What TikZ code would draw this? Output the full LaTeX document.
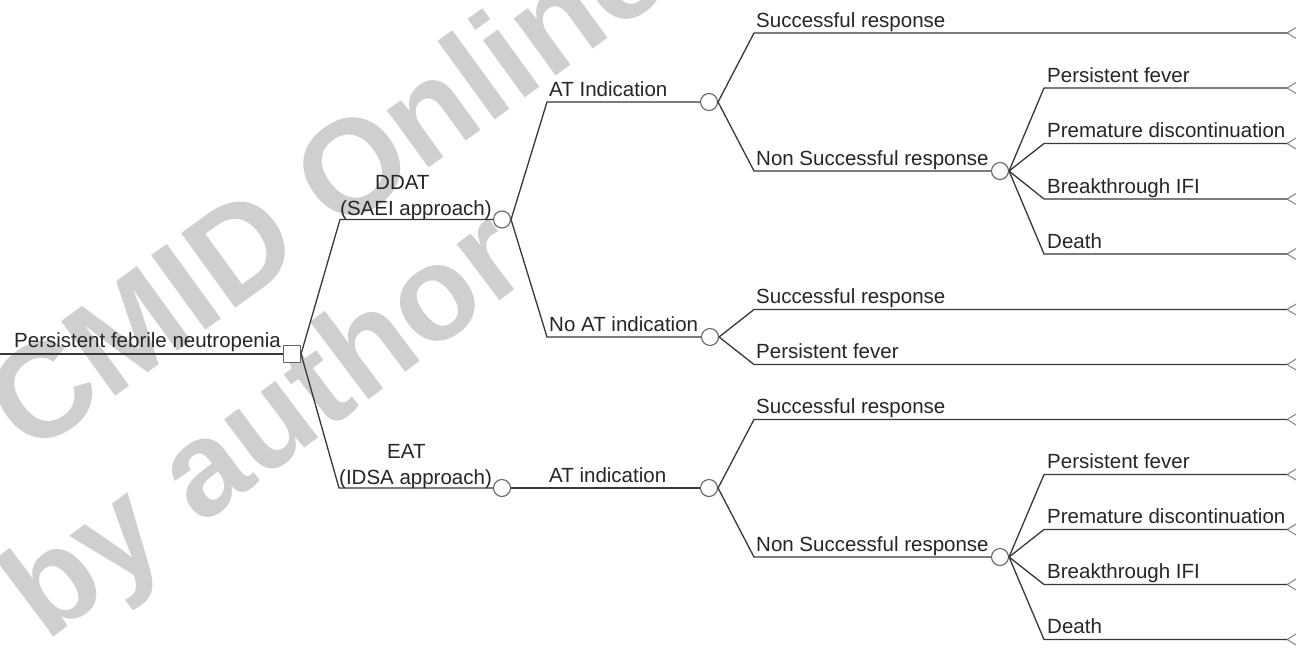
\documentclass[tikz,border=0pt]{standalone}
\usepackage{fontspec}
\newfontfamily\labfont{Liberation Sans}
\newfontfamily\wmfont{Liberation Sans Bold}
\begin{document}
\begin{tikzpicture}[x=1pt,y=-1pt,
  lab/.style={font=\labfont\fontsize{20.5}{26}\selectfont, inner sep=0pt, anchor=base west, text=black!85},
  wm/.style={font=\wmfont\fontsize{134}{134}\selectfont, text=black!19, inner sep=0pt, anchor=base west},
  branch/.style={draw=black!78, line width=1.3pt},
  chance/.style={circle, draw=black!60, fill=white, line width=1.1pt, minimum size=17pt, inner sep=0pt},
  decision/.style={rectangle, draw=black!60, fill=white, line width=1.1pt, minimum size=17pt, inner sep=0pt},
  term/.style={draw=black!45, line width=1.1pt}
]
\useasboundingbox (0,0) rectangle (1296,649);
\clip (0,0) rectangle (1296,649);
\fill[white] (0,0) rectangle (1296,649);
% watermark
\node[wm, rotate=36] (wm1) at (30,458) {CMID Online};
\node[wm, rotate=37] (wm2) at (46,643) {by author};

% terminal y values
\def\ta{33}\def\tb{88}\def\tc{143.5}\def\td{199}\def\te{254}\def\tf{309.5}
\def\tg{364.5}\def\th{419.5}\def\ti{474.5}\def\tj{529.5}\def\tk{584.5}\def\tl{639.5}

% nodes
\coordinate (r0) at (0,354);
\node[decision] (dec) at (292,354) {};
\node[chance] (c1) at (502,219.5) {};
\node[chance] (c2) at (502,488) {};
\node[chance] (c3) at (709,102) {};
\node[chance] (c4) at (710,337) {};
\node[chance] (c5) at (709,488) {};
\node[chance] (c6) at (1000,171) {};
\node[chance] (c7) at (1000,557) {};

% corners
\coordinate (k1) at (340,219.5);
\coordinate (k2) at (339,488);
\coordinate (k3) at (547,102);
\coordinate (k4) at (547,337);
\coordinate (k5) at (547,488);
\coordinate (k6) at (754,\ta);
\coordinate (k7) at (754,171);
\coordinate (k8) at (754,\tf);
\coordinate (k9) at (754,\tg);
\coordinate (k10) at (754,\th);
\coordinate (k11) at (754,557);
\coordinate (q1) at (1044,\tb);
\coordinate (q2) at (1044,\tc);
\coordinate (q3) at (1044,\td);
\coordinate (q4) at (1044,\te);
\coordinate (q5) at (1044,\ti);
\coordinate (q6) at (1044,\tj);
\coordinate (q7) at (1044,\tk);
\coordinate (q8) at (1044,\tl);

% terminals
\foreach \n/\y in {e1/\ta,e2/\tb,e3/\tc,e4/\td,e5/\te,e6/\tf,e7/\tg,e8/\th,e9/\ti,e10/\tj,e11/\tk,e12/\tl}{
  \coordinate (\n) at (1287,\y);
  \draw[term] ([shift={(10,-6)}]\n) -- (\n) -- ([shift={(10,6)}]\n);
}

% connectors
\draw[branch] (r0) -- (dec.west);
\draw[branch] (dec.east) -- (k1) -- (c1.west);
\draw[branch] (dec.east) -- (k2) -- (c2.west);
\draw[branch] (c1.east) -- (k3) -- (c3.west);
\draw[branch] (c1.east) -- (k4) -- (c4.west);
\draw[branch] (c2.east) -- (k5) -- (c5.west);
\draw[branch] (c3.east) -- (k6) -- (e1);
\draw[branch] (c3.east) -- (k7) -- (c6.west);
\draw[branch] (c4.east) -- (k8) -- (e6);
\draw[branch] (c4.east) -- (k9) -- (e7);
\draw[branch] (c5.east) -- (k10) -- (e8);
\draw[branch] (c5.east) -- (k11) -- (c7.west);
\draw[branch] (c6.east) -- (q1) -- (e2);
\draw[branch] (c6.east) -- (q2) -- (e3);
\draw[branch] (c6.east) -- (q3) -- (e4);
\draw[branch] (c6.east) -- (q4) -- (e5);
\draw[branch] (c7.east) -- (q5) -- (e9);
\draw[branch] (c7.east) -- (q6) -- (e10);
\draw[branch] (c7.east) -- (q7) -- (e11);
\draw[branch] (c7.east) -- (q8) -- (e12);

% labels
\node[lab] (lroot) at (14,347) {Persistent febrile neutropenia};
\node[lab, align=left, anchor=south west] (l1) at (340,220) {\hspace*{35pt}DDAT\\(SAEI approach)};
\node[lab, align=left, anchor=south west] (l2) at (339,488.5) {\hspace*{48pt}EAT\\(IDSA approach)};
\node[lab] (l3) at (549,96) {AT Indication};
\node[lab] (l4) at (549,331) {No AT indication};
\node[lab] (l5) at (549,482) {AT indication};
\node[lab] (l6) at (756,\ta-6) {Successful response};
\node[lab] (l7) at (756,165) {Non Successful response};
\node[lab] (l8) at (756,\tf-6) {Successful response};
\node[lab] (l9) at (756,\tg-6) {Persistent fever};
\node[lab] (l10) at (756,\th-6) {Successful response};
\node[lab] (l11) at (756,551) {Non Successful response};
\node[lab] (l12) at (1047,\tb-6) {Persistent fever};
\node[lab] (l13) at (1047,\tc-6) {Premature discontinuation};
\node[lab] (l14) at (1047,\td-6) {Breakthrough IFI};
\node[lab] (l15) at (1047,\te-6) {Death};
\node[lab] (l16) at (1047,\ti-6) {Persistent fever};
\node[lab] (l17) at (1047,\tj-6) {Premature discontinuation};
\node[lab] (l18) at (1047,\tk-6) {Breakthrough IFI};
\node[lab] (l19) at (1047,\tl-6) {Death};
\end{tikzpicture}
\end{document}
